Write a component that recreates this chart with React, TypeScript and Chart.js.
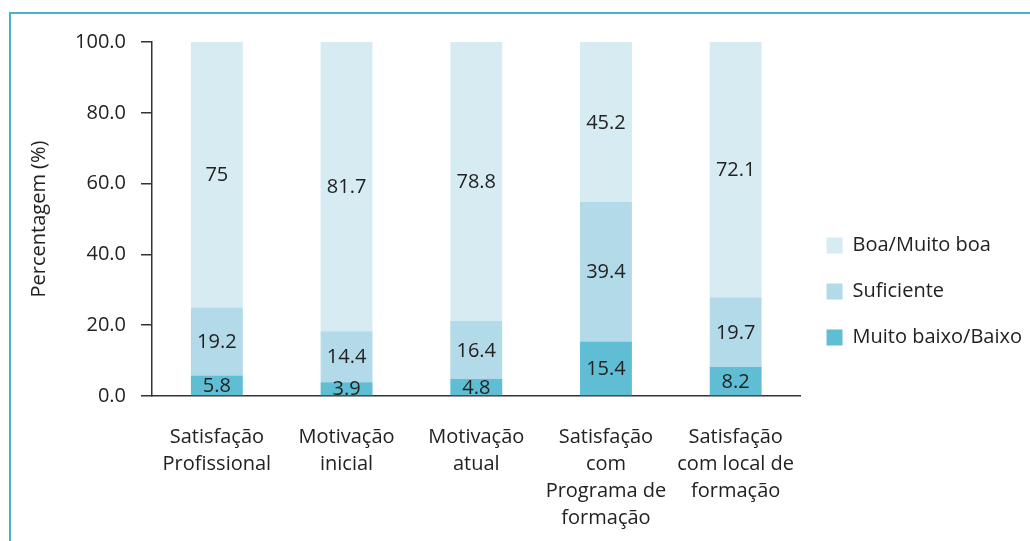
import React, { useEffect, useRef } from "react";
import { Chart, registerables } from "chart.js";

Chart.register(...registerables);

const categories: string[][] = [
  ["Satisfação", "Profissional"],
  ["Motivação", "inicial"],
  ["Motivação", "atual"],
  ["Satisfação", "com", "Programa de", "formação"],
  ["Satisfação", "com local de", "formação"],
];
const muitoBaixo = [5.8, 3.9, 4.8, 15.4, 8.2];
const suficiente = [19.2, 14.4, 16.4, 39.4, 19.7];
const boa = [75, 81.7, 78.8, 45.2, 72.1];
const seriesNames = ["Muito baixo/Baixo", "Suficiente", "Boa/Muito boa"];
const yTicks = [0, 20, 40, 60, 80, 100];

const FONT = "'Open Sans', 'Noto Sans', sans-serif";
const TEXT = "#222222";

const valueLabels = {
  id: "valueLabels",
  afterDatasetsDraw(chart: any) {
    const ctx = chart.ctx;
    ctx.save();
    ctx.font = `20px ${FONT}`;
    ctx.fillStyle = TEXT;
    ctx.textAlign = "center";
    ctx.textBaseline = "middle";
    chart.data.datasets.forEach((ds: any, di: number) => {
      const meta = chart.getDatasetMeta(di);
      meta.data.forEach((el: any, i: number) => {
        const { x, y, base } = el.getProps(["x", "y", "base"], true);
        ctx.fillText(String(ds.data[i]), x, (y + base) / 2 + 1);
      });
    });
    ctx.restore();
  },
};

export default function App() {
  const ref = useRef<HTMLCanvasElement>(null);
  useEffect(() => {
    if (!ref.current) return;
    const chart = new Chart(ref.current, {
      type: "bar",
      data: {
        labels: categories as any,
        datasets: [
          { label: seriesNames[0], data: muitoBaixo, backgroundColor: "#5fbdd4" },
          { label: seriesNames[1], data: suficiente, backgroundColor: "#b2dae8" },
          { label: seriesNames[2], data: boa, backgroundColor: "#d7ebf2" },
        ],
      },
      options: {
        responsive: false,
        animation: false,
        devicePixelRatio: 1,
        layout: { padding: { left: 27, top: 42, right: -2, bottom: 0 } },
        datasets: { bar: { barPercentage: 0.4, categoryPercentage: 1 } } as any,
        plugins: {
          tooltip: { enabled: false },
          legend: {
            position: "right",
            align: "center",
            reverse: true,
            labels: {
              boxWidth: 16,
              boxHeight: 16,
              padding: 26,
              color: TEXT,
              font: { family: FONT, size: 20 },
            },
          },
        },
        scales: {
          x: {
            stacked: true,
            afterFit(scale: any) {
              scale.height = 145;
            },
            grid: { display: false, drawTicks: false },
            border: { display: true, color: "#333", width: 1.5 },
            ticks: {
              color: TEXT,
              padding: 28,
              maxRotation: 0,
              autoSkip: false,
              font: { family: FONT, size: 20, lineHeight: 1.35 },
            },
          },
          y: {
            stacked: true,
            min: 0,
            max: 100,
            afterFit(scale: any) {
              scale.width = 152 - 27;
            },
            afterBuildTicks(scale: any) {
              scale.ticks = yTicks.map((v) => ({ value: v }));
            },
            grid: {
              drawOnChartArea: false,
              drawTicks: true,
              tickLength: 11,
              color: "#333",
              lineWidth: 1.5,
            },
            border: { display: true, color: "#333", width: 1.5 },
            ticks: {
              color: TEXT,
              padding: 15,
              font: { family: FONT, size: 20 },
              callback: (v: any) => Number(v).toFixed(1),
            },
            title: {
              display: true,
              text: "Percentagem (%)",
              color: TEXT,
              padding: { top: 0, bottom: 0 },
              font: { family: FONT, size: 20 },
            },
          },
        },
      },
      plugins: [valueLabels],
    });
    return () => chart.destroy();
  }, []);

  return (
    <div style={{ position: "fixed", left: 0, top: 0, width: 1030, height: 541, background: "#fff", overflow: "hidden" }}>
      <div
        style={{
          position: "absolute",
          left: 9,
          top: 12,
          right: -20,
          bottom: -20,
          borderTop: "2px solid #45b4ca",
          borderLeft: "2px solid #45b4ca",
        }}
      />
      <canvas ref={ref} width={1030} height={541} style={{ position: "absolute", left: 0, top: 0 }} />
    </div>
  );
}
